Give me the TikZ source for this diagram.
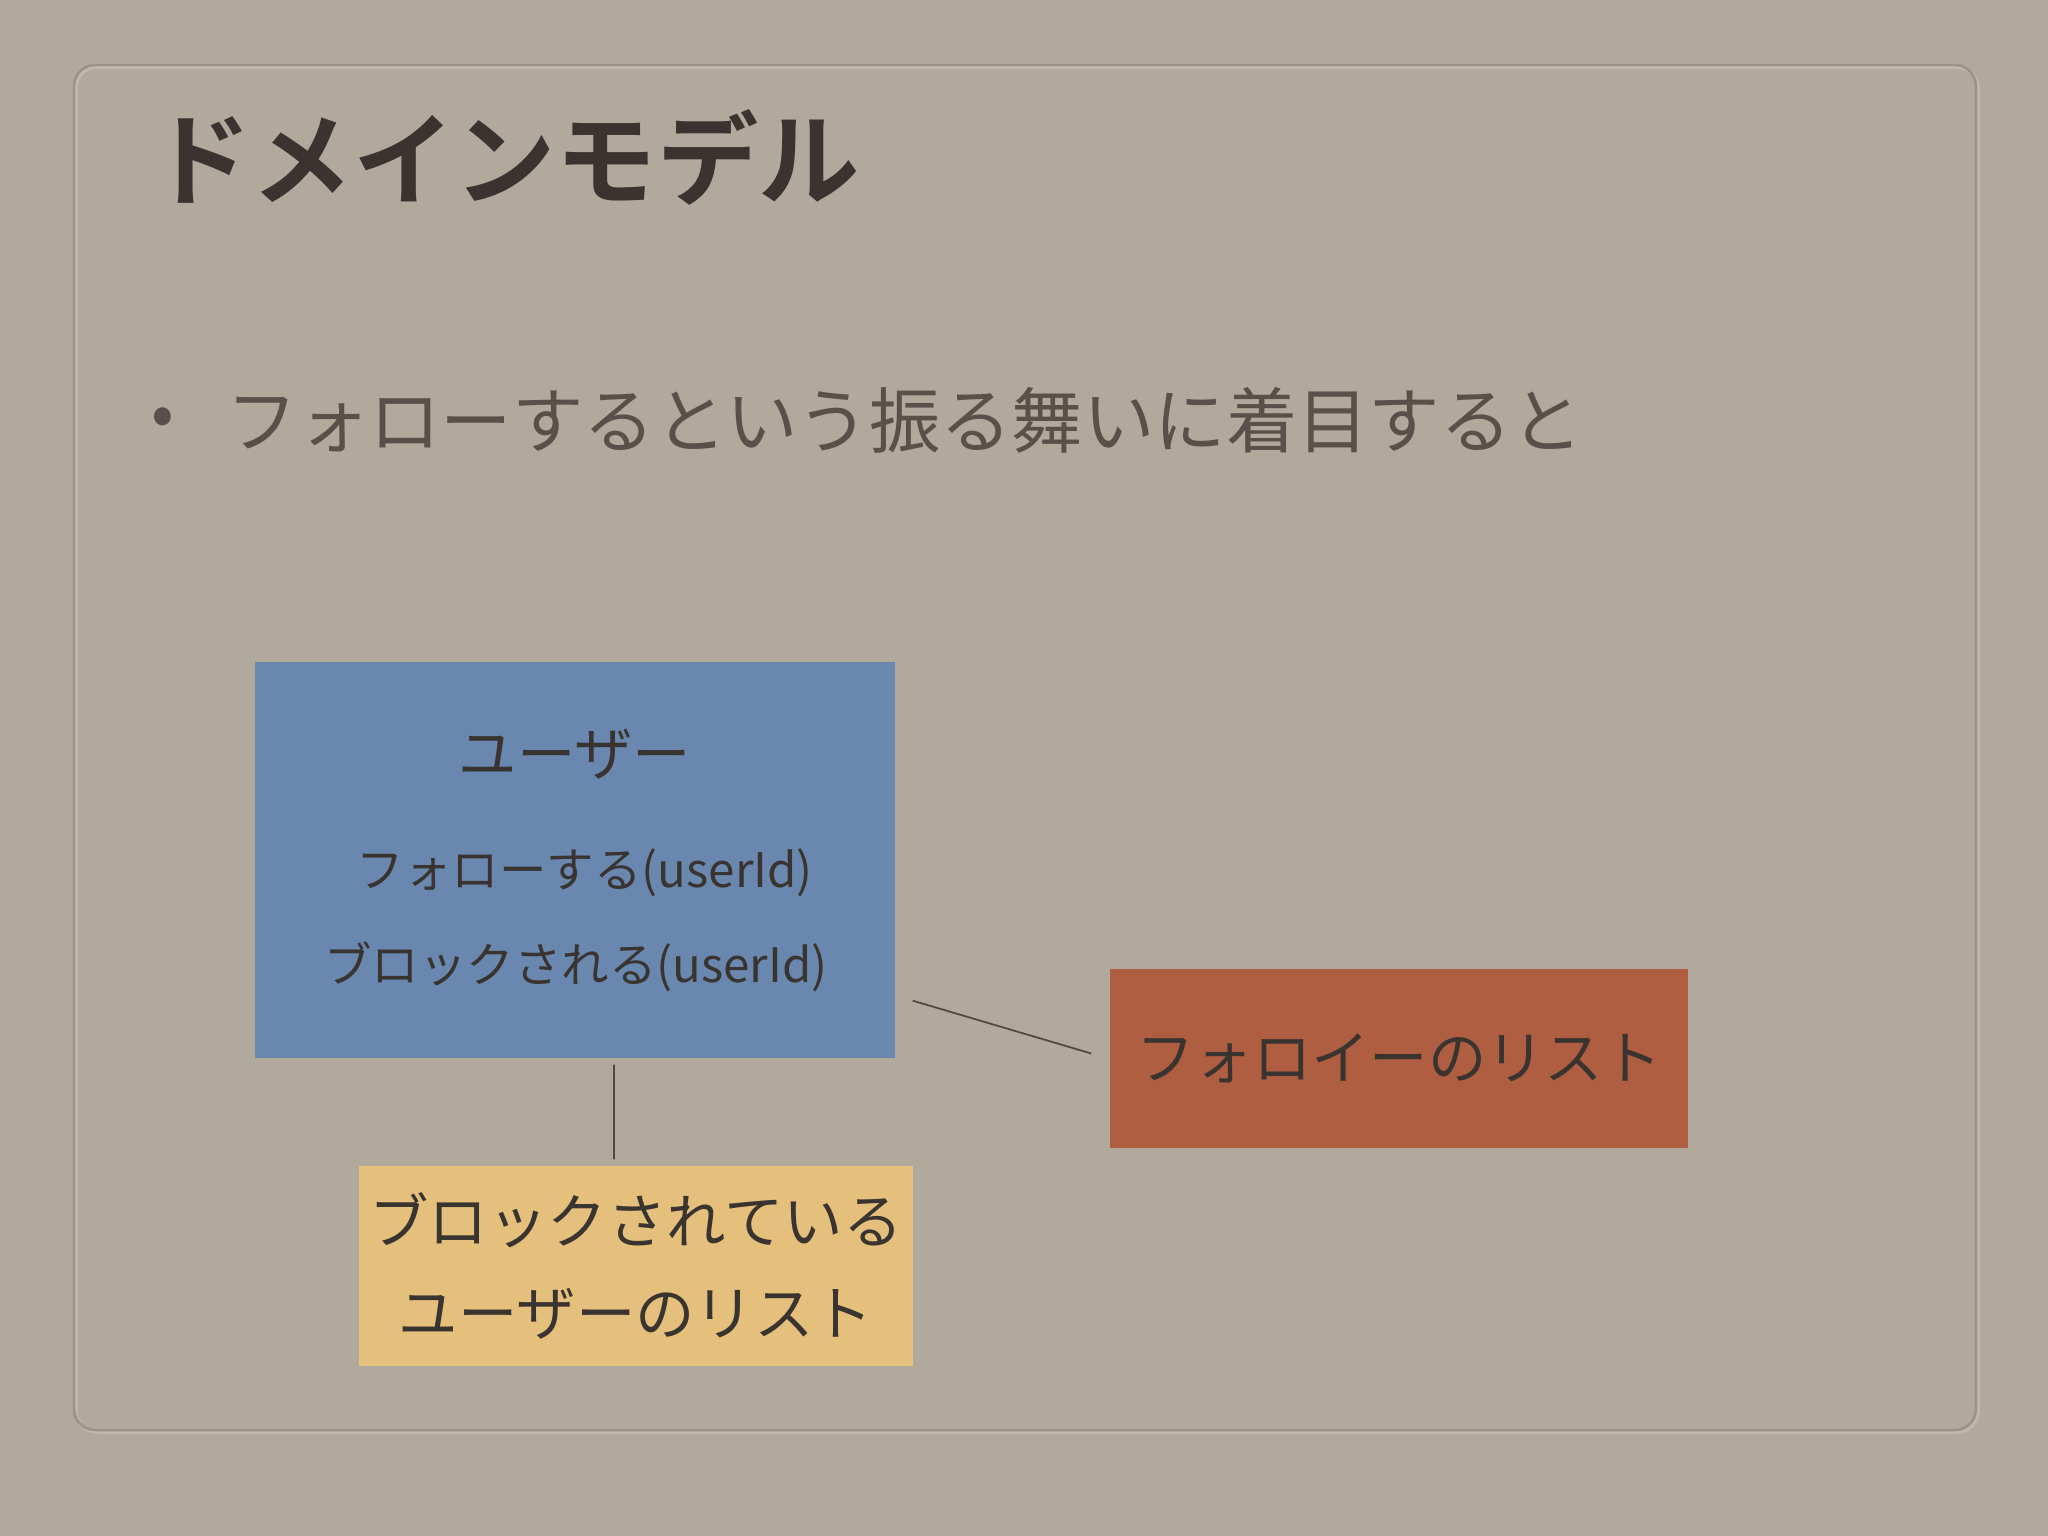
\documentclass[tikz,border=0pt]{standalone}
\usepackage{fontspec}
\setmainfont{Noto Sans CJK JP}
\newfontfamily\jpbold{Noto Sans CJK JP Bold}
\definecolor{bgc}{RGB}{178,169,157}
\definecolor{framedark}{RGB}{155,146,135}
\definecolor{framelight}{RGB}{192,184,173}
\definecolor{bluebox}{RGB}{106,135,176}
\definecolor{redbox}{RGB}{176,94,66}
\definecolor{yellowbox}{RGB}{229,192,124}
\definecolor{inkdark}{RGB}{58,52,48}
\definecolor{inkmid}{RGB}{88,80,73}
\definecolor{linec}{RGB}{80,72,66}
\tikzset{
  box/.style={draw=none, inner sep=0pt, align=center, text=inkdark},
  conn/.style={draw=linec, line width=0.5pt},
  bigtxt/.style={font=\fontsize{16.6pt}{26pt}\selectfont},
}
\begin{document}
\begin{tikzpicture}[x=0.01cm,y=-0.01cm]
\useasboundingbox (0,0) rectangle (2048,1536);
\fill[bgc] (0,0) rectangle (2048,1536);
% embossed frame
\draw[framelight, line width=1.0pt, rounded corners=6] (76,67) rectangle (1978,1432);
\draw[framedark, line width=0.7pt, rounded corners=6] (74,65) rectangle (1976,1430);
% title
\node[anchor=west, text=inkdark, font=\jpbold\fontsize{28.8pt}{32pt}\selectfont, inner sep=0pt] (title) at (150,157) {ドメインモデル};
% bullet
\node[text=inkmid, font=\fontsize{19pt}{22pt}\selectfont, inner sep=0pt] (bul) at (163,422) {•};
\node[anchor=west, text=inkmid, font=\fontsize{20.3pt}{24pt}\selectfont, inner sep=0pt] (btext) at (226,420) {フォローするという振る舞いに着目すると};
% boxes
\node[box, fill=bluebox, minimum width=640*0.01cm, minimum height=396*0.01cm] (user) at (575,860) {};
\node[text=inkdark, bigtxt, inner sep=0pt] (uname) at (575,754) {ユーザー};
\node[text=inkdark, font=\fontsize{13.5pt}{16pt}\selectfont, inner sep=0pt] (m1) at (585,873) {フォローする(userId)};
\node[text=inkdark, font=\fontsize{13.5pt}{16pt}\selectfont, inner sep=0pt] (m2) at (576,967) {ブロックされる(userId)};
\node[box, fill=redbox, bigtxt, minimum width=578*0.01cm, minimum height=179*0.01cm] (follow) at (1399,1058.5) {フォロイーのリスト};
\node[box, fill=yellowbox, font=\fontsize{16.9pt}{26pt}\selectfont, minimum width=554*0.01cm, minimum height=200*0.01cm] (blocked) at (636,1266) {ブロックされている\\ユーザーのリスト};
% connectors
\draw[conn] ([xshift=0.17cm, yshift=0.58cm]user.south east) -- ([xshift=-0.18cm, yshift=0.05cm]follow.west);
\draw[conn] ([xshift=0.39cm, yshift=-0.06cm]user.south) -- ([xshift=-0.22cm, yshift=0.06cm]blocked.north);
\end{tikzpicture}
\end{document}
